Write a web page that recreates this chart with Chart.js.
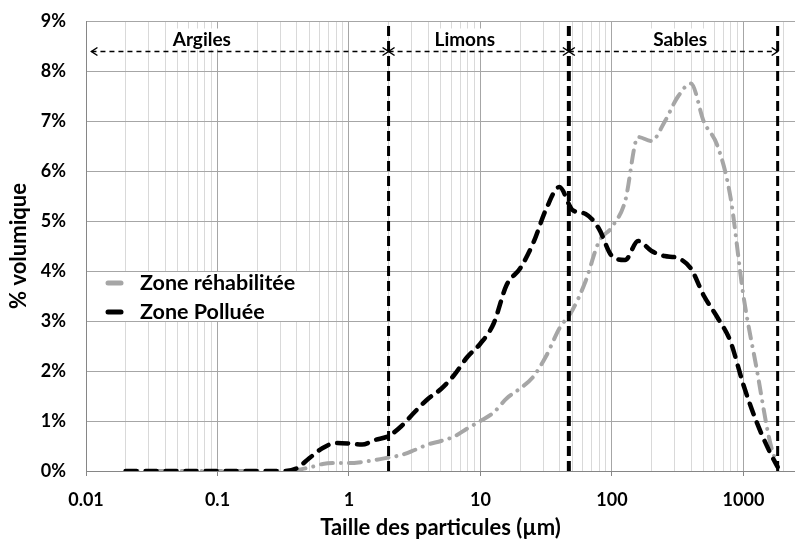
<!DOCTYPE html>
<html>
<head>
<meta charset="utf-8">
<script src="https://cdn.jsdelivr.net/npm/chart.js@4.4.0/dist/chart.umd.min.js"></script>
<style>
    html, body { margin: 0; padding: 0; background: #fff; }
    #wrap { width: 795px; height: 541px; }
</style>
</head>
<body>
<div id="wrap"><canvas id="granuloChart" width="795" height="541"></canvas></div>
<script>
// Tailles des particules (µm)
const tailles = [0.02, 0.025, 0.032, 0.04, 0.05, 0.063, 0.08,
    0.1, 0.126, 0.158, 0.2, 0.251, 0.316, 0.398, 0.501, 0.631, 0.794,
    1, 1.26, 1.58, 2, 2.51, 3.16, 3.98, 5.01, 6.31, 7.94,
    10, 12.6, 15.8, 20, 25.1, 31.6, 39.8, 50.1, 63.1, 79.4,
    100, 126, 158, 200, 251, 316, 398, 501, 631, 794,
    1000, 1259, 1585, 1820];

// % volumique
const zoneRehabilitee = [0, 0, 0, 0, 0, 0, 0,
    0, 0, 0, 0, 0, 0, 0.02, 0.07, 0.14, 0.16,
    0.16, 0.18, 0.22, 0.27, 0.32, 0.42, 0.53, 0.6, 0.69, 0.85,
    1.0, 1.17, 1.45, 1.65, 1.88, 2.3, 2.85, 3.22, 3.8, 4.58,
    4.88, 5.4, 6.68, 6.6, 6.98, 7.48, 7.75, 6.98, 6.52, 5.5,
    3.5, 2.05, 0.6, 0.08];

const zonePolluee = [0, 0, 0, 0, 0, 0, 0,
    0, 0, 0, 0, 0, 0, 0.05, 0.26, 0.46, 0.56,
    0.55, 0.53, 0.62, 0.7, 0.9, 1.18, 1.44, 1.64, 1.92, 2.28,
    2.55, 2.95, 3.72, 4.05, 4.55, 5.24, 5.68, 5.22, 5.14, 4.85,
    4.3, 4.22, 4.6, 4.4, 4.3, 4.26, 4.05, 3.5, 3.08, 2.6,
    1.72, 0.98, 0.38, 0.08];

const seriesNames = ['Zone réhabilitée', 'Zone Polluée'];

// classes granulométriques
const classes = ['Argiles', 'Limons', 'Sables'];
const classesDebut = [0.011, 2, 47];
const classesFin = [2, 47, 1820];
const limites = [2, 47, 1820];

const yTicks = [0, 1, 2, 3, 4, 5, 6, 7, 8, 9];
const xDecades = [0.01, 0.1, 1, 10, 100, 1000];

const X_MAX = 2466;
const ARROW_LEVEL = 8.39;
const labelCentres = [0.076, 7.6, 330];
const FONT = 'Lato, "Open Sans", sans-serif';

// taille de police pour obtenir la largeur du texte voulue
const mctx = document.createElement('canvas').getContext('2d');
function fitSize(text, width) {
    mctx.font = 'bold 100px ' + FONT;
    return Math.round(100 * width / mctx.measureText(text).width * 2) / 2;
}
const tickSize = fitSize('0.01', 36);
const titleSize = fitSize('Taille des particules (µm)', 239);
const legendSize = fitSize('Zone réhabilitée', 155);
const classSize = fitSize('Argiles', 59);

function isDecade(v) {
    const l = Math.log10(v);
    return Math.abs(l - Math.round(l)) < 1e-9;
}

const xGridValues = [];
xDecades.forEach(function(d) {
    for (let k = 1; k <= 9; k++) {
        const v = parseFloat((k * d).toPrecision(6));
        if (v <= X_MAX) xGridValues.push(v);
    }
});

function toPoints(values) {
    return tailles.map(function(t, i) { return { x: t, y: values[i] }; });
}

const datasets = [
    {
        label: seriesNames[0],
        data: toPoints(zoneRehabilitee),
        borderColor: '#a6a6a6',
        borderWidth: 4,
        borderDash: [12, 8, 0.01, 8],
        borderCapStyle: 'round',
        cubicInterpolationMode: 'monotone',
        pointRadius: 0,
        order: 3
    },
    {
        label: seriesNames[1],
        data: toPoints(zonePolluee),
        borderColor: '#000000',
        borderWidth: 4.5,
        borderDash: [11, 9],
        borderCapStyle: 'round',
        cubicInterpolationMode: 'monotone',
        pointRadius: 0,
        order: 2
    }
];

const lineWidths = [3, 4, 3];
limites.forEach(function(l, i) {
    datasets.push({
        label: 'limite' + i,
        data: [{ x: l, y: 0 }, { x: l, y: 9 }],
        borderColor: '#000000',
        borderWidth: lineWidths[i],
        borderDash: [10, 5],
        pointRadius: 0,
        order: 1
    });
});

classes.forEach(function(c, i) {
    datasets.push({
        label: 'fleche' + i,
        data: [{ x: classesDebut[i], y: ARROW_LEVEL }, { x: classesFin[i], y: ARROW_LEVEL }],
        borderColor: '#000000',
        borderWidth: 1.5,
        borderDash: [5, 4],
        pointRadius: 0,
        order: 1
    });
});

// étiquettes des classes avec fond blanc
const classLabels = {
    id: 'classLabels',
    beforeDatasetsDraw(chart) {
        const ctx = chart.ctx;
        const xs = chart.scales.x, ys = chart.scales.y;
        ctx.save();
        ctx.font = 'bold ' + classSize + 'px ' + FONT;
        ctx.textAlign = 'center';
        ctx.textBaseline = 'middle';
        classes.forEach(function(c, i) {
            const px = xs.getPixelForValue(labelCentres[i]);
            const py = ys.getPixelForValue(ARROW_LEVEL) - 12;
            const w = ctx.measureText(c).width + 8;
            ctx.fillStyle = '#ffffff';
            ctx.fillRect(px - w / 2, py - 11, w, 21);
            ctx.fillStyle = '#000000';
            ctx.fillText(c, px, py);
        });
        ctx.restore();
    },
    afterDatasetsDraw(chart) {
        // pointes de flèches
        const ctx = chart.ctx;
        const xs = chart.scales.x, ys = chart.scales.y;
        const py = ys.getPixelForValue(ARROW_LEVEL);
        ctx.save();
        ctx.strokeStyle = '#000000';
        ctx.lineWidth = 1.5;
        classes.forEach(function(c, i) {
            const a = xs.getPixelForValue(classesDebut[i]);
            const b = xs.getPixelForValue(classesFin[i]);
            ctx.beginPath();
            ctx.moveTo(a + 6, py - 4);
            ctx.lineTo(a, py);
            ctx.lineTo(a + 6, py + 4);
            ctx.moveTo(b - 6, py - 4);
            ctx.lineTo(b, py);
            ctx.lineTo(b - 6, py + 4);
            ctx.stroke();
        });
        ctx.restore();
    }
};

// légende dans la zone de tracé
const insideLegend = {
    id: 'insideLegend',
    afterDraw(chart) {
        const ctx = chart.ctx;
        ctx.save();
        ctx.fillStyle = '#ffffff';
        ctx.fillRect(93, 272, 217, 49);
        ctx.font = 'bold ' + legendSize + 'px ' + FONT;
        ctx.textBaseline = 'middle';
        ctx.textAlign = 'left';
        [0, 1].forEach(function(i) {
            const y = 283 + i * 29;
            ctx.strokeStyle = chart.data.datasets[i].borderColor;
            ctx.lineWidth = 5;
            ctx.lineCap = 'round';
            ctx.beginPath();
            ctx.moveTo(108, y);
            ctx.lineTo(121, y);
            ctx.stroke();
            ctx.fillStyle = '#000000';
            ctx.fillText(seriesNames[i], 140, y);
        });
        ctx.restore();
    }
};

new Chart(document.getElementById('granuloChart').getContext('2d'), {
    type: 'line',
    data: { datasets: datasets },
    options: {
        responsive: false,
        animation: false,
        devicePixelRatio: 1,
        layout: { padding: { top: 21, right: 0, bottom: 0, left: 0 } },
        plugins: {
            legend: { display: false },
            tooltip: { enabled: false }
        },
        scales: {
            x: {
                type: 'logarithmic',
                min: 0.01,
                max: X_MAX,
                afterFit: function(scale) {
                    scale.height = 70;
                    scale.paddingLeft = 0;
                    scale.paddingRight = 0;
                },
                afterBuildTicks: function(scale) {
                    scale.ticks = xGridValues.map(function(v) { return { value: v }; });
                },
                ticks: {
                    autoSkip: false,
                    maxRotation: 0,
                    padding: Math.max(0, Math.round(500 - 476 - 0.6 * tickSize)),
                    color: '#000000',
                    font: { family: FONT, size: tickSize, weight: 'bold' },
                    callback: function(value) {
                        return isDecade(value) ? String(parseFloat(value.toPrecision(6))) : '';
                    }
                },
                grid: {
                    color: function(c) {
                        return c.tick && isDecade(c.tick.value) ? '#a6a6a6' : '#d9d9d9';
                    },
                    tickColor: function(c) {
                        return c.tick && isDecade(c.tick.value) ? '#868686' : 'rgba(0,0,0,0)';
                    },
                    tickLength: 5
                },
                border: { color: '#868686', width: 1 },
                title: {
                    display: true,
                    text: 'Taille des particules (µm)',
                    color: '#000000',
                    font: { family: FONT, size: titleSize, weight: 'bold' },
                    padding: { top: 0, bottom: 0 }
                }
            },
            y: {
                min: 0,
                max: 9,
                afterFit: function(scale) {
                    scale.width = 86;
                    scale.paddingTop = 0;
                    scale.paddingBottom = 0;
                },
                afterBuildTicks: function(scale) {
                    scale.ticks = yTicks.map(function(v) { return { value: v }; });
                },
                ticks: {
                    padding: 20,
                    color: '#000000',
                    font: { family: FONT, size: tickSize, weight: 'bold' },
                    callback: function(value) { return value + '%'; }
                },
                grid: { color: '#a6a6a6', drawTicks: false },
                border: { color: '#868686', width: 1 },
                title: {
                    display: true,
                    text: '% volumique',
                    color: '#000000',
                    font: { family: FONT, size: titleSize, weight: 'bold' },
                    padding: { top: Math.max(0, Math.round(19 - 0.6 * titleSize)), bottom: 0 }
                }
            }
        }
    },
    plugins: [classLabels, insideLegend]
});
</script>
</body>
</html>
